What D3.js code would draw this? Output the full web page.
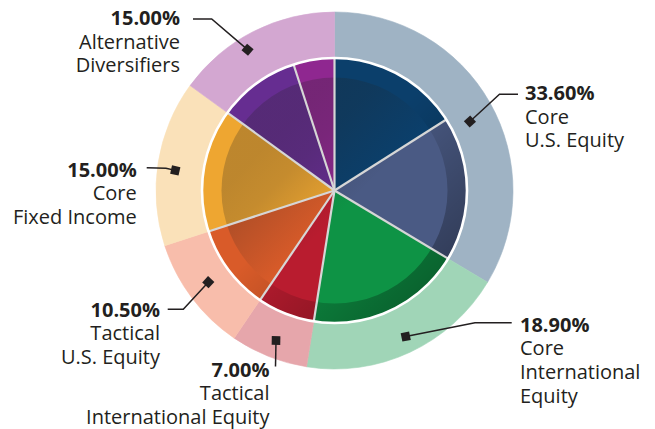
<!DOCTYPE html>
<html>
<head>
<meta charset="utf-8">
<script src="https://cdn.jsdelivr.net/npm/d3@7"></script>
<style>
  html, body { margin: 0; padding: 0; background: #ffffff; }
  svg { display: block; }
  text { font-family: "Open Sans", "Noto Sans", sans-serif; fill: #231f20; }
</style>
</head>
<body>
<svg id="chart" width="655" height="429"></svg>
<script>
// ---- data ----
const groups = ["Core U.S. Equity", "Core International Equity", "Tactical International Equity",
                "Tactical U.S. Equity", "Core Fixed Income", "Alternative Diversifiers"];
const groupValues = [33.6, 18.9, 7.0, 10.5, 15.0, 15.0];
const groupLabelLines = [["Core", "U.S. Equity"], ["Core", "International", "Equity"],
                         ["Tactical", "International Equity"], ["Tactical", "U.S. Equity"],
                         ["Core", "Fixed Income"], ["Alternative", "Diversifiers"]];
const subGroupIndex = [0, 0, 1, 2, 3, 4, 5, 5];
const subValues = [16.0, 17.6, 18.9, 7.0, 10.5, 15.0, 10.0, 5.0];

// ---- styles ----
const outerColors = ["#9fb3c4", "#a0d5b7", "#e6a6ab", "#f8bdab", "#fae1b9", "#d3a7d1"];
const innerColors = ["#0b3f6b", "#4a5a84", "#0e9345", "#b91c2f", "#d95b29", "#eea631", "#662d91", "#8f2790"];

// ---- layout (label placement) ----
const labelLayout = [
  { x: 525, y: 100, anchor: "start", path: [[518, 94.3], [499.5, 94.3]], mAngle: 63, mR: 152 },
  { x: 520, y: 331.7, anchor: "start", path: [[511.7, 322.7], [475, 322.7]], mAngle: 154, mR: 162.5 },
  { x: 269.5, y: 376.7, anchor: "end", path: [[275.5, 366.5]], mAngle: 201.3, mR: 161 },
  { x: 160, y: 316.7, anchor: "end", path: [[167.7, 309.3], [183.3, 309.3]], mAngle: 234, mR: 156 },
  { x: 136.7, y: 176.7, anchor: "end", path: [[146.7, 167.7], [166, 168.3]], mAngle: 277.2, mR: 160.5 },
  { x: 180, y: 25, anchor: "end", path: [[193, 19], [211.7, 19]], mAngle: 328.3, mR: 165.5 }
];

const cx = 334.5, cy = 190.5;
const rOuter = 178.5, rPie = 132.5, rInnerShade = 113;

const svg = d3.select("#chart");
const defs = svg.append("defs");

// gradients for bevel shading
const gRing = defs.append("linearGradient").attr("id", "ringShade")
  .attr("gradientUnits", "userSpaceOnUse")
  .attr("x1", -rPie * 0.7).attr("y1", -rPie * 0.7).attr("x2", rPie * 0.7).attr("y2", rPie * 0.7);
gRing.append("stop").attr("offset", "0").attr("stop-color", "#000").attr("stop-opacity", 0);
gRing.append("stop").attr("offset", "0.45").attr("stop-color", "#000").attr("stop-opacity", 0);
gRing.append("stop").attr("offset", "1").attr("stop-color", "#000").attr("stop-opacity", 0.32);

const gDisc = defs.append("linearGradient").attr("id", "discShade")
  .attr("gradientUnits", "userSpaceOnUse")
  .attr("x1", -56.6).attr("y1", -56.6).attr("x2", 14.1).attr("y2", 14.1);
gDisc.append("stop").attr("offset", "0").attr("stop-color", "#222").attr("stop-opacity", 0.24);
gDisc.append("stop").attr("offset", "0.35").attr("stop-color", "#222").attr("stop-opacity", 0.2);
gDisc.append("stop").attr("offset", "1").attr("stop-color", "#222").attr("stop-opacity", 0.0);

const g = svg.append("g").attr("transform", `translate(${cx},${cy})`);

const pie = d3.pie().sort(null).value(d => d).startAngle(0).endAngle(2 * Math.PI);

// outer ring
const outerArcs = pie(groupValues);
const outerArc = d3.arc().innerRadius(rPie).outerRadius(rOuter);
g.selectAll("path.outer").data(outerArcs).join("path")
  .attr("class", "outer")
  .attr("d", outerArc)
  .attr("fill", (d, i) => outerColors[i])
  .attr("stroke", (d, i) => outerColors[i])
  .attr("stroke-width", 0.6);

// inner pie
const innerArcs = pie(subValues);
const innerArc = d3.arc().innerRadius(0).outerRadius(rPie);
g.selectAll("path.inner").data(innerArcs).join("path")
  .attr("class", "inner")
  .attr("d", innerArc)
  .attr("fill", (d, i) => innerColors[i]);

// bevel overlays
g.append("path")
  .attr("d", d3.arc().innerRadius(rInnerShade).outerRadius(rPie)({ startAngle: 0, endAngle: 2 * Math.PI }))
  .attr("fill", "url(#ringShade)");
g.append("circle").attr("r", rInnerShade).attr("fill", "url(#discShade)");

// slice separators
g.selectAll("line.sep").data(innerArcs).join("line")
  .attr("class", "sep")
  .attr("x1", 0).attr("y1", 0)
  .attr("x2", d => rPie * Math.sin(d.startAngle))
  .attr("y2", d => -rPie * Math.cos(d.startAngle))
  .attr("stroke", "#d6d6d6")
  .attr("stroke-width", 2.2);

// white border round the pie
g.append("circle").attr("r", rPie).attr("fill", "none")
  .attr("stroke", "#ffffff").attr("stroke-width", 2.6);

// labels
const fmt = d3.format(".2f");
labelLayout.forEach((L, i) => {
  const a = L.mAngle * Math.PI / 180;
  const mx = cx + L.mR * Math.sin(a), my = cy - L.mR * Math.cos(a);
  const pts = L.path.concat([[mx, my]]);
  svg.append("path")
    .attr("d", d3.line()(pts))
    .attr("fill", "none")
    .attr("stroke", "#231f20")
    .attr("stroke-width", 1.5);
  const prev = pts[pts.length - 2];
  const ang = Math.atan2(my - prev[1], mx - prev[0]) * 180 / Math.PI;
  svg.append("rect")
    .attr("x", -4.3).attr("y", -4.3).attr("width", 8.6).attr("height", 8.6)
    .attr("fill", "#231f20")
    .attr("transform", `translate(${mx},${my}) rotate(${ang})`);

  const t = svg.append("text")
    .attr("x", L.x).attr("y", L.y)
    .attr("text-anchor", L.anchor)
    .style("font-size", "20px");
  t.append("tspan").attr("x", L.x).attr("font-weight", 700)
    .text(fmt(groupValues[i]) + "%");
  groupLabelLines[i].forEach(line => {
    t.append("tspan").attr("x", L.x).attr("dy", 23.7).attr("font-weight", 400).text(line);
  });
});
</script>
</body>
</html>
